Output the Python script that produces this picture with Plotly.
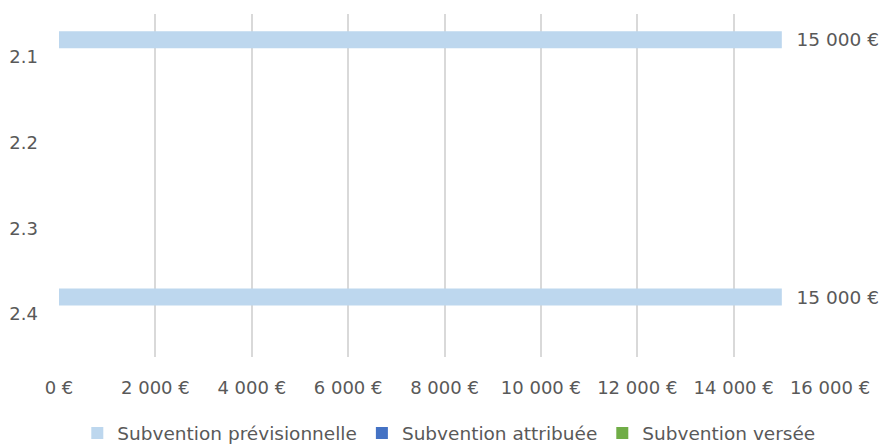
import plotly.graph_objects as go

categories = ["2.1", "2.2", "2.3", "2.4"]
prev = [15000, None, None, 15000]
attr = [None, None, None, None]
versee = [None, None, None, None]
series_names = ["Subvention prévisionnelle", "Subvention attribuée", "Subvention versée"]
colors = ["#BDD7EE", "#4472C4", "#70AD47"]
tick_vals = [0, 2000, 4000, 6000, 8000, 10000, 12000, 14000, 16000]
tick_text = [f"{v:,}".replace(",", " ") + " €" for v in tick_vals]

FONT = "DejaVu Sans"
FS = 18
GRAY = "#595959"

fig = go.Figure()
for name, vals, col in zip(series_names, [prev, attr, versee], colors):
    fig.add_trace(go.Bar(
        y=categories, x=vals, name=name, orientation="h",
        marker=dict(color=col, line=dict(width=0)),
        texttemplate="\u00a0\u00a0%{x:,.0f} €",
        textposition="outside", constraintext="none", cliponaxis=False,
        textfont=dict(family=FONT, size=18.5, color=GRAY),
    ))

fig.update_layout(
    width=880, height=445,
    margin=dict(l=59, r=50, t=14, b=88, autoexpand=False),
    paper_bgcolor="white", plot_bgcolor="white",
    barmode="group", bargap=0.405, bargroupgap=0,
    separators=", ",
    font=dict(family=FONT, size=FS, color=GRAY),
    showlegend=True,
    legend=dict(orientation="h", x=0.51, xanchor="center", xref="container",
                y=-0.278, yanchor="bottom", yref="paper",
                font=dict(family=FONT, size=18.5, color=GRAY), traceorder="normal",
                tracegroupgap=0, itemwidth=30),
    xaxis=dict(range=[0, 16000], tickvals=tick_vals, ticktext=tick_text,
               showgrid=True, gridcolor="#D9D9D9", gridwidth=2, zeroline=False,
               showline=False, ticks="", ticklabelstandoff=18,
               tickfont=dict(family=FONT, size=FS, color=GRAY)),
    yaxis=dict(type="category", categoryorder="array", categoryarray=categories,
               autorange="reversed", showgrid=False, zeroline=False, showline=False,
               ticks="", ticklabelstandoff=20,
               tickfont=dict(family=FONT, size=FS, color=GRAY)),
)

fig.write_html("out.html")
